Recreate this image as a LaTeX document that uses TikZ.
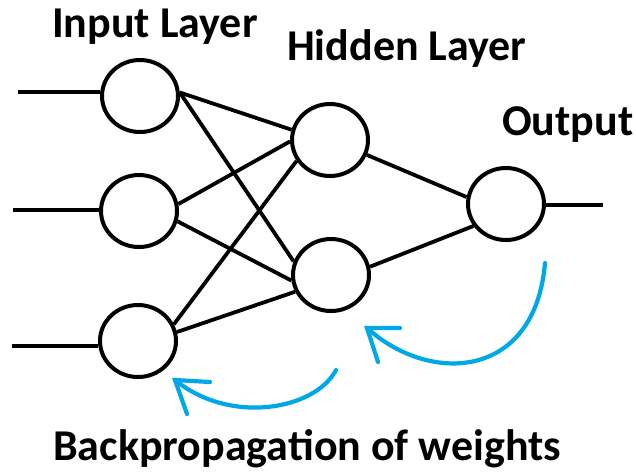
\documentclass[tikz,border=0pt]{standalone}
\usepackage{fontspec}
\setmainfont{Carlito}
\usetikzlibrary{shapes.geometric}
\definecolor{backblue}{RGB}{0,168,232}
\begin{document}
\begin{tikzpicture}[x=1pt,y=-1pt,
  neuron/.style={ellipse,draw=black,line width=4pt,minimum width=76pt,minimum height=72pt,inner sep=0pt},
  wire/.style={draw=black,line width=3.8pt},
  backarrow/.style={draw=backblue,line width=4.2pt,line cap=round},
  label/.style={anchor=base west,inner sep=0pt,font=\fontsize{44}{44}\selectfont\bfseries}]
\useasboundingbox (0,0) rectangle (636,475);
% neurons
\node[neuron] (i1) at (140,96) {};
\node[neuron] (i2) at (139,211) {};
\node[neuron] (i3) at (138,341) {};
\node[neuron] (h1) at (330,140) {};
\node[neuron] (h2) at (331,275) {};
\node[neuron] (o)  at (506,204) {};
% free ends of the input and output wires
\coordinate (x1) at (18,92);
\coordinate (x2) at (13,210);
\coordinate (x3) at (12,346);
\coordinate (y1) at (603,205);
\draw[wire] (x1) -- (i1.west |- x1);
\draw[wire] (x2) -- (i2.west |- x2);
\draw[wire] (x3) -- (i3.west |- x3);
\draw[wire] (o.east |- y1) -- (y1);
% input to hidden
\draw[wire] (i1.5) -- (h1.165);
\draw[wire] (i1.5) -- (h2.160);
\draw[wire] (i2.10) -- (h1.182);
\draw[wire] (i2.-15) -- (h2.188);
\draw[wire] (i3.25) -- (h1.212);
\draw[wire] (i3.13) -- (h2.205);
% hidden to output
\draw[wire] (h1.-22) -- (o.170);
\draw[wire] (h2.12) -- (o.214);
% labels
\node[label] (tin) at (52,37) {Input Layer};
\node[label] (thid) at (287,60) {Hidden Layer};
\node[label] (tout) at (502,135) {Output};
\node[label] (tback) at (53,460) {Backpropagation of weights};
% backpropagation arrows
\coordinate (a1s) at (545,263);
\coordinate (a1t) at (367,328);
\draw[backarrow] (a1s) .. controls (535,380) and (430,385) .. (a1t);
\draw[backarrow] (400,328) -- (a1t) -- (378,362);
\coordinate (a2s) at (336,370);
\coordinate (a2t) at (175,380);
\draw[backarrow] (a2s) .. controls (315,410) and (230,425) .. (a2t);
\draw[backarrow] (210,382) -- (a2t) -- (187,414);
\end{tikzpicture}
\end{document}
